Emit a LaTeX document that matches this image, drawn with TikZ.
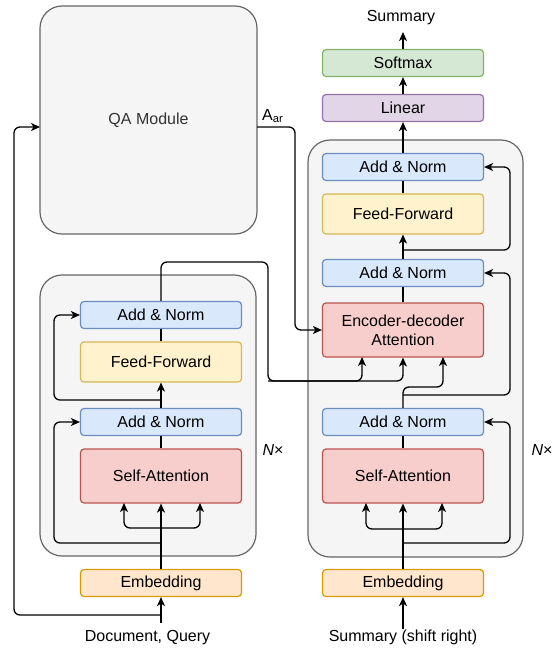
\documentclass[tikz,border=0pt]{standalone}
\usepackage{fontspec}
\setmainfont{Liberation Sans}
\usetikzlibrary{arrows.meta}
\definecolor{normfill}{HTML}{DAE8FC}
\definecolor{normline}{HTML}{6C8EBF}
\definecolor{fffill}{HTML}{FFF2CC}
\definecolor{ffline}{HTML}{D6B656}
\definecolor{attfill}{HTML}{F8CECC}
\definecolor{attline}{HTML}{B85450}
\definecolor{embfill}{HTML}{FFE6CC}
\definecolor{embline}{HTML}{D79B00}
\definecolor{linfill}{HTML}{E1D5E7}
\definecolor{linline}{HTML}{9673A6}
\definecolor{smfill}{HTML}{D5E8D4}
\definecolor{smline}{HTML}{82B366}
\definecolor{boxfill}{HTML}{F5F5F5}
\definecolor{boxline}{HTML}{666666}
\definecolor{qatext}{HTML}{333333}
\tikzset{
  txt/.style={font=\fontsize{16}{19}\selectfont, inner sep=0pt, align=center},
  blk/.style={txt, draw, line width=1.2pt, rounded corners=3.5pt, minimum width=161pt},
  addnorm/.style={blk, fill=normfill, draw=normline, minimum height=27pt},
  feedfwd/.style={blk, fill=fffill, draw=ffline, minimum height=40pt},
  attn/.style={blk, fill=attfill, draw=attline, minimum height=54pt},
  embed/.style={blk, fill=embfill, draw=embline, minimum height=27pt},
  linear/.style={blk, fill=linfill, draw=linline, minimum height=27pt},
  softmax/.style={blk, fill=smfill, draw=smline, minimum height=27pt},
  stack/.style={txt, draw=boxline, fill=boxfill, line width=1.2pt, rounded corners=22pt},
  wire/.style={line width=1.3pt, rounded corners=6pt},
  arr/.style={wire, -{Stealth[length=9pt,width=8pt,inset=2.5pt]}}
}
\begin{document}
\begin{tikzpicture}[x=1pt,y=-1pt]
  \useasboundingbox (0,0) rectangle (558,648);

  \node[stack, minimum width=217, minimum height=228, text=qatext] (qa) at (148.5,120) {QA Module};
  \node[stack, minimum width=216, minimum height=281] (encBox) at (148,415.5) {};
  \node[stack, minimum width=215, minimum height=417] (decBox) at (415.5,348.5) {};

  % encoder
  \node[addnorm] (eNorm2) at (161,315) {Add \& Norm};
  \node[feedfwd] (eFF) at (161,362) {Feed-Forward};
  \node[addnorm] (eNorm1) at (161,422) {Add \& Norm};
  \node[attn] (eSA) at (161,476) {Self-Attention};
  \node[embed] (eEmb) at (161,583) {Embedding};
  \node[txt] (docIn) at (147.5,638) {Document, Query};
  \node[txt] (eRep) at (273,450) {\textit{N}×};

  % decoder
  \node[txt] (sumOut) at (401,18) {Summary};
  \node[softmax] (dSoft) at (403,63) {Softmax};
  \node[linear] (dLin) at (403,108) {Linear};
  \node[addnorm] (dNorm3) at (403,167) {Add \& Norm};
  \node[feedfwd] (dFF) at (403,214) {Feed-Forward};
  \node[addnorm] (dNorm2) at (403,273) {Add \& Norm};
  \node[attn] (dEDA) at (403,330) {Encoder-decoder\\Attention};
  \node[addnorm] (dNorm1) at (403,422) {Add \& Norm};
  \node[attn] (dSA) at (403,476) {Self-Attention};
  \node[embed] (dEmb) at (403,583) {Embedding};
  \node[txt] (sumIn) at (403,637) {Summary (shift right)};
  \node[txt] (dRep) at (542,450) {\textit{N}×};

  \coordinate (eIn) at (161,623);
  \coordinate (eInSplit) at (161,615);
  \coordinate (qaTurn) at (14,615);
  \coordinate (qaIn) at (40,127);
  \coordinate (qaOut) at (257,127);
  \coordinate (aTurn) at (295,127);
  \node[txt, anchor=south west] (aLabel) at (262,123) {A\textsubscript{ar}};

  \coordinate (eSplit) at (161,528);
  \coordinate (eQ) at (124,503);
  \coordinate (eV) at (200,503);
  \coordinate (eRes1) at (161,543);
  \coordinate (eLeft1) at (54,543);
  \coordinate (eRes2) at (161,400);
  \coordinate (eLeft2) at (54,400);
  \coordinate (encUp) at (161,262);
  \coordinate (encRight) at (268,262);
  \coordinate (encDown) at (268,381);
  \coordinate (dK) at (362,357);

  \coordinate (dSplit) at (403,529);
  \coordinate (dQ1) at (366,503);
  \coordinate (dV1) at (442,503);
  \coordinate (dRes1) at (403,543);
  \coordinate (dRight1) at (510,543);
  \coordinate (dTurn) at (403,387);
  \coordinate (dQ2) at (443,357);
  \coordinate (dRes2) at (403,395);
  \coordinate (dRight2) at (510,395);
  \coordinate (dRes3) at (403,250);
  \coordinate (dRight3) at (510,250);
  \coordinate (dOut) at (403,32);

  \draw[arr] (eIn) -- (eEmb.south);
  \draw[arr] (eInSplit) -- (qaTurn) |- (qaIn);
  \draw[arr] (eEmb.north) -- (eSA.south);
  \draw[arr] (eSplit) -| (eQ);
  \draw[arr] (eSplit) -| (eV);
  \draw[arr] (eRes1) -- (eLeft1) |- (eNorm1.west);
  \draw[wire] (eSA.north) -- (eNorm1.south);
  \draw[arr] (eNorm1.north) -- (eFF.south);
  \draw[arr] (eRes2) -- (eLeft2) |- (eNorm2.west);
  \draw[wire] (eFF.north) -- (eNorm2.south);
  \draw[arr] (eNorm2.north) -- (encUp) -- (encRight) -- (encDown) -| (dK);
  \draw[arr] (encDown) -| (dEDA.south);
  \draw[arr] (qaOut) -- (aTurn) |- (dEDA.west);

  \draw[arr] (sumIn.north) -- (dEmb.south);
  \draw[arr] (dEmb.north) -- (dSA.south);
  \draw[arr] (dSplit) -| (dQ1);
  \draw[arr] (dSplit) -| (dV1);
  \draw[arr] (dRes1) -- (dRight1) |- (dNorm1.east);
  \draw[wire] (dSA.north) -- (dNorm1.south);
  \draw[arr] (dNorm1.north) -- (dTurn) -| (dQ2);
  \draw[arr] (dRes2) -- (dRight2) |- (dNorm2.east);
  \draw[wire] (dEDA.north) -- (dNorm2.south);
  \draw[arr] (dNorm2.north) -- (dFF.south);
  \draw[arr] (dRes3) -- (dRight3) |- (dNorm3.east);
  \draw[wire] (dFF.north) -- (dNorm3.south);
  \draw[arr] (dNorm3.north) -- (dLin.south);
  \draw[arr] (dLin.north) -- (dSoft.south);
  \draw[arr] (dSoft.north) -- (dOut);
\end{tikzpicture}
\end{document}
